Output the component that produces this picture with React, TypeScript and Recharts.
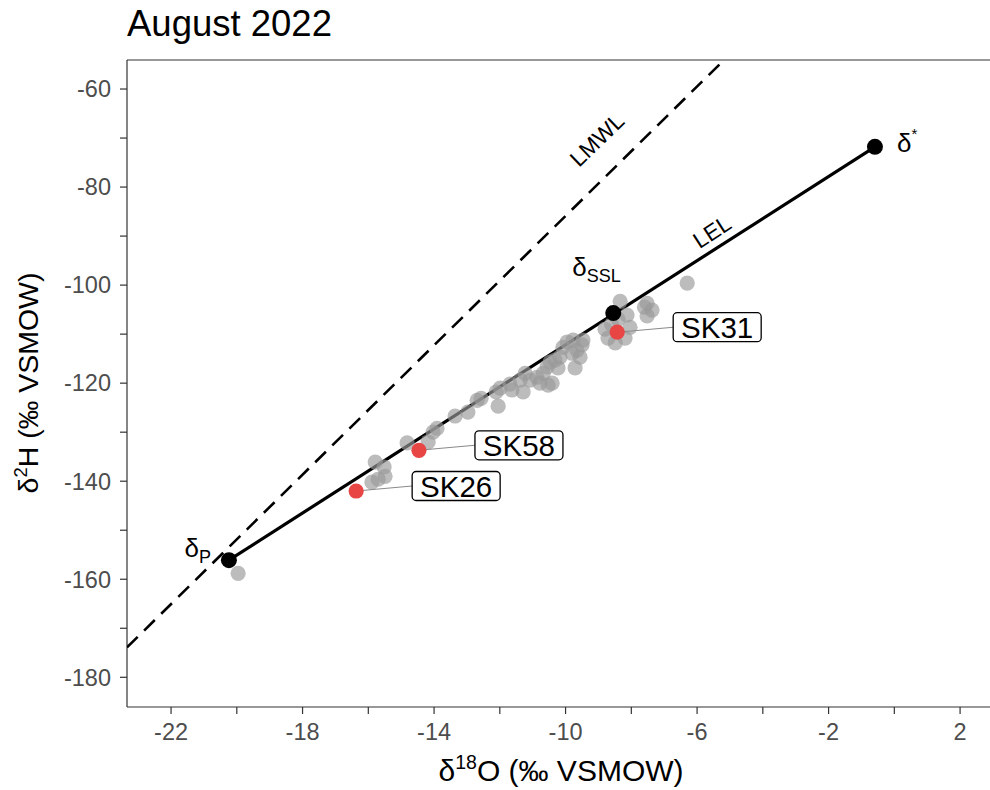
import React from 'react';
import { ScatterChart, Scatter, XAxis, YAxis, ReferenceLine, ReferenceDot } from 'recharts';

const FONT = "'Liberation Sans', Arial, Helvetica, sans-serif";

// Gray sample points (δ18O, δ2H)
const grayX = [
  -19.96, -15.79, -15.52, -15.49, -15.89, -15.70, -14.82, -14.18, -14.03, -13.91,
  -13.36, -12.97, -12.69, -12.57, -12.05, -12.11, -11.69, -11.63, -11.38, -11.29,
  -11.23, -11.08, -10.87, -10.78, -10.68, -10.56, -10.53, -10.47, -10.32, -10.23,
  -10.17, -10.08, -9.95, -9.80, -9.71, -9.65, -9.56, -9.50, -9.47, -9.77,
  -10.41, -8.34, -8.13, -7.52, -7.37, -7.52, -8.80, -8.04, -8.19, -8.71,
  -6.30, -8.49, -8.40, -11.99, -7.60, -8.60,
];
const grayY = [
  -158.8, -136.1, -137.1, -139.0, -140.2, -139.6, -132.2, -132.0, -130.0, -129.2,
  -126.7, -125.9, -123.5, -123.1, -124.7, -121.8, -120.2, -121.4, -119.4, -121.8,
  -118.0, -119.4, -118.8, -120.0, -118.0, -116.7, -120.4, -115.7, -115.3, -116.9,
  -114.7, -112.7, -111.6, -113.9, -116.9, -113.3, -114.7, -112.2, -111.2, -111.2,
  -120.0, -103.3, -106.1, -103.7, -105.1, -106.3, -109.0, -108.6, -110.8, -110.8,
  -99.6, -111.8, -107.0, -121.0, -104.5, -108.0,
];

// Highlighted samples
const redNames = ['SK31', 'SK58', 'SK26'];
const redX = [-8.43, -14.46, -16.37];
const redY = [-109.6, -133.7, -142.0];

// Model end-members
const endNames = ['P', 'SSL', '*'];
const endX = [-20.24, -8.55, -0.59];
const endY = [-156.1, -105.7, -71.8];

// Lines
const lelX = [-20.24, -0.59];
const lelY = [-156.1, -71.8];
const lmwlX = [-23.34, -5.18];
const lmwlY = [-173.9, -54.08];

// Axes
const xDomain = [-23.34, 2.91];
const yDomain = [-186.06, -54.08];
const xTicks = [-22, -20, -18, -16, -14, -12, -10, -8, -6, -4, -2, 0, 2];
const xTickLabels = [-22, -18, -14, -10, -6, -2, 2];
const yTicks = [-180, -170, -160, -150, -140, -130, -120, -110, -100, -90, -80, -70, -60];
const yTickLabels = [-180, -160, -140, -120, -100, -80, -60];

const grayData = grayX.map((x, i) => ({ x, y: grayY[i] }));
const redData = redX.map((x, i) => ({ x, y: redY[i], name: redNames[i] }));
const endData = endX.map((x, i) => ({ x, y: endY[i], name: endNames[i] }));
const lelData = lelX.map((x, i) => ({ x, y: lelY[i] }));
const lmwlData = lmwlX.map((x, i) => ({ x, y: lmwlY[i] }));

const AXIS = '#333333';
const TICKTXT = '#4d4d4d';

const GrayDot = (p: any) => (
  <circle cx={p.cx} cy={p.cy} r={7.6} fill="#999999" fillOpacity={0.66} />
);

const RedDot = (p: any) => {
  const bx = p.cx + 56;
  return (
    <g>
      <line x1={p.cx} y1={p.cy} x2={bx} y2={p.cy - 5} stroke="#8a8a8a" strokeWidth={1.1} />
      <circle cx={p.cx} cy={p.cy} r={7.6} fill="#e84545" />
    </g>
  );
};

const RedLabel = (p: any) => {
  const bx = p.cx + 56;
  const by = p.cy - 5 - 14.5;
  return (
    <g>
      <rect x={bx} y={by} width={88} height={29} rx={4} ry={4} fill="#ffffff" stroke="#000" strokeWidth={1.3} />
      <text x={bx + 44} y={by + 25} textAnchor="middle" fontFamily={FONT} fontSize={29.5} fill="#000">
        {p.payload?.name}
      </text>
    </g>
  );
};

const EndDot = (p: any) => {
  const name = p.payload?.name;
  let label: any = null;
  if (name === 'P') {
    label = (
      <text x={p.cx - 18} y={p.cy - 3} textAnchor="end" fontFamily={FONT} fontSize={26} fill="#000">
        δ<tspan dy={6} fontSize={18}>P</tspan>
      </text>
    );
  } else if (name === 'SSL') {
    label = (
      <text x={p.cx - 41} y={p.cy - 37} textAnchor="start" fontFamily={FONT} fontSize={26} fill="#000">
        δ<tspan dy={6} fontSize={18}>SSL</tspan>
      </text>
    );
  } else {
    label = (
      <text x={p.cx + 22} y={p.cy + 5} textAnchor="start" fontFamily={FONT} fontSize={26} fill="#000">
        δ<tspan dy={-13} fontSize={15}>*</tspan>
      </text>
    );
  }
  return (
    <g>
      <circle cx={p.cx} cy={p.cy} r={8} fill="#000" />
      {label}
    </g>
  );
};

const RotLabel = (text: string, angle: number) => (p: any) => (
  <text
    x={p.cx}
    y={p.cy}
    transform={`rotate(${angle}, ${p.cx}, ${p.cy})`}
    textAnchor="middle"
    dominantBaseline="central"
    fontFamily={FONT}
    fontSize={22.5}
    fill="#000"
  >
    {text}
  </text>
);

const fmtX = (v: number) => (xTickLabels.includes(v) ? String(v) : '');
const fmtY = (v: number) => (yTickLabels.includes(v) ? String(v) : '');

export default function App() {
  return (
    <div style={{ position: 'absolute', left: 0, top: 0, width: 990, height: 790, background: '#fff' }}>
      <ScatterChart width={990} height={790} margin={{ top: 60, right: 0, bottom: 0, left: 0 }}>
        <XAxis
          type="number"
          dataKey="x"
          domain={xDomain}
          ticks={xTicks}
          interval={0}
          allowDataOverflow
          height={83}
          tickSize={7}
          tickMargin={9}
          tick={{ fill: TICKTXT, fontSize: 23.5, fontFamily: FONT }}
          tickFormatter={fmtX}
          axisLine={{ stroke: AXIS, strokeWidth: 1.2 }}
          tickLine={{ stroke: AXIS, strokeWidth: 1.2 }}
        />
        <YAxis
          type="number"
          dataKey="y"
          domain={yDomain}
          ticks={yTicks}
          interval={0}
          allowDataOverflow
          width={127}
          tickSize={7}
          tickMargin={9}
          tick={{ fill: TICKTXT, fontSize: 23.5, fontFamily: FONT }}
          tickFormatter={fmtY}
          axisLine={{ stroke: AXIS, strokeWidth: 1.2 }}
          tickLine={{ stroke: AXIS, strokeWidth: 1.2 }}
        />
        <ReferenceLine y={yDomain[1]} stroke={AXIS} strokeWidth={1.2} ifOverflow="visible" />
        <Scatter
          data={lmwlData}
          line={{ stroke: '#000', strokeWidth: 2.6, strokeDasharray: '15 9' }}
          shape={() => <g />}
          isAnimationActive={false}
        />
        <Scatter
          data={lelData}
          line={{ stroke: '#000', strokeWidth: 3.2 }}
          shape={() => <g />}
          isAnimationActive={false}
        />
        <Scatter data={grayData} shape={GrayDot} isAnimationActive={false} />
        <Scatter data={redData} shape={RedDot} isAnimationActive={false} />
        <Scatter data={redData} shape={RedLabel} isAnimationActive={false} />
        <Scatter data={endData} shape={EndDot} isAnimationActive={false} />
        <ReferenceDot x={-9.04} y={-70.4} r={0} ifOverflow="visible" shape={RotLabel('LMWL', -44)} />
        <ReferenceDot x={-5.54} y={-89.2} r={0} ifOverflow="visible" shape={RotLabel('LEL', -33)} />
      </ScatterChart>
      <svg
        width={990}
        height={790}
        style={{ position: 'absolute', left: 0, top: 0, pointerEvents: 'none' }}
      >
        <text x={127} y={36} fontFamily={FONT} fontSize={36.5} fill="#000">
          August 2022
        </text>
        <text x={561} y={781} textAnchor="middle" fontFamily={FONT} fontSize={30} fill="#000">
          δ<tspan dy={-12} fontSize={19.5}>18</tspan>
          <tspan dy={12}>O (‰ VSMOW)</tspan>
        </text>
        <text
          x={38}
          y={383}
          transform="rotate(-90, 38, 383)"
          textAnchor="middle"
          fontFamily={FONT}
          fontSize={28.5}
          fill="#000"
        >
          δ<tspan dy={-11} fontSize={18.5}>2</tspan>
          <tspan dy={11}>H (‰ VSMOW)</tspan>
        </text>
      </svg>
    </div>
  );
}
